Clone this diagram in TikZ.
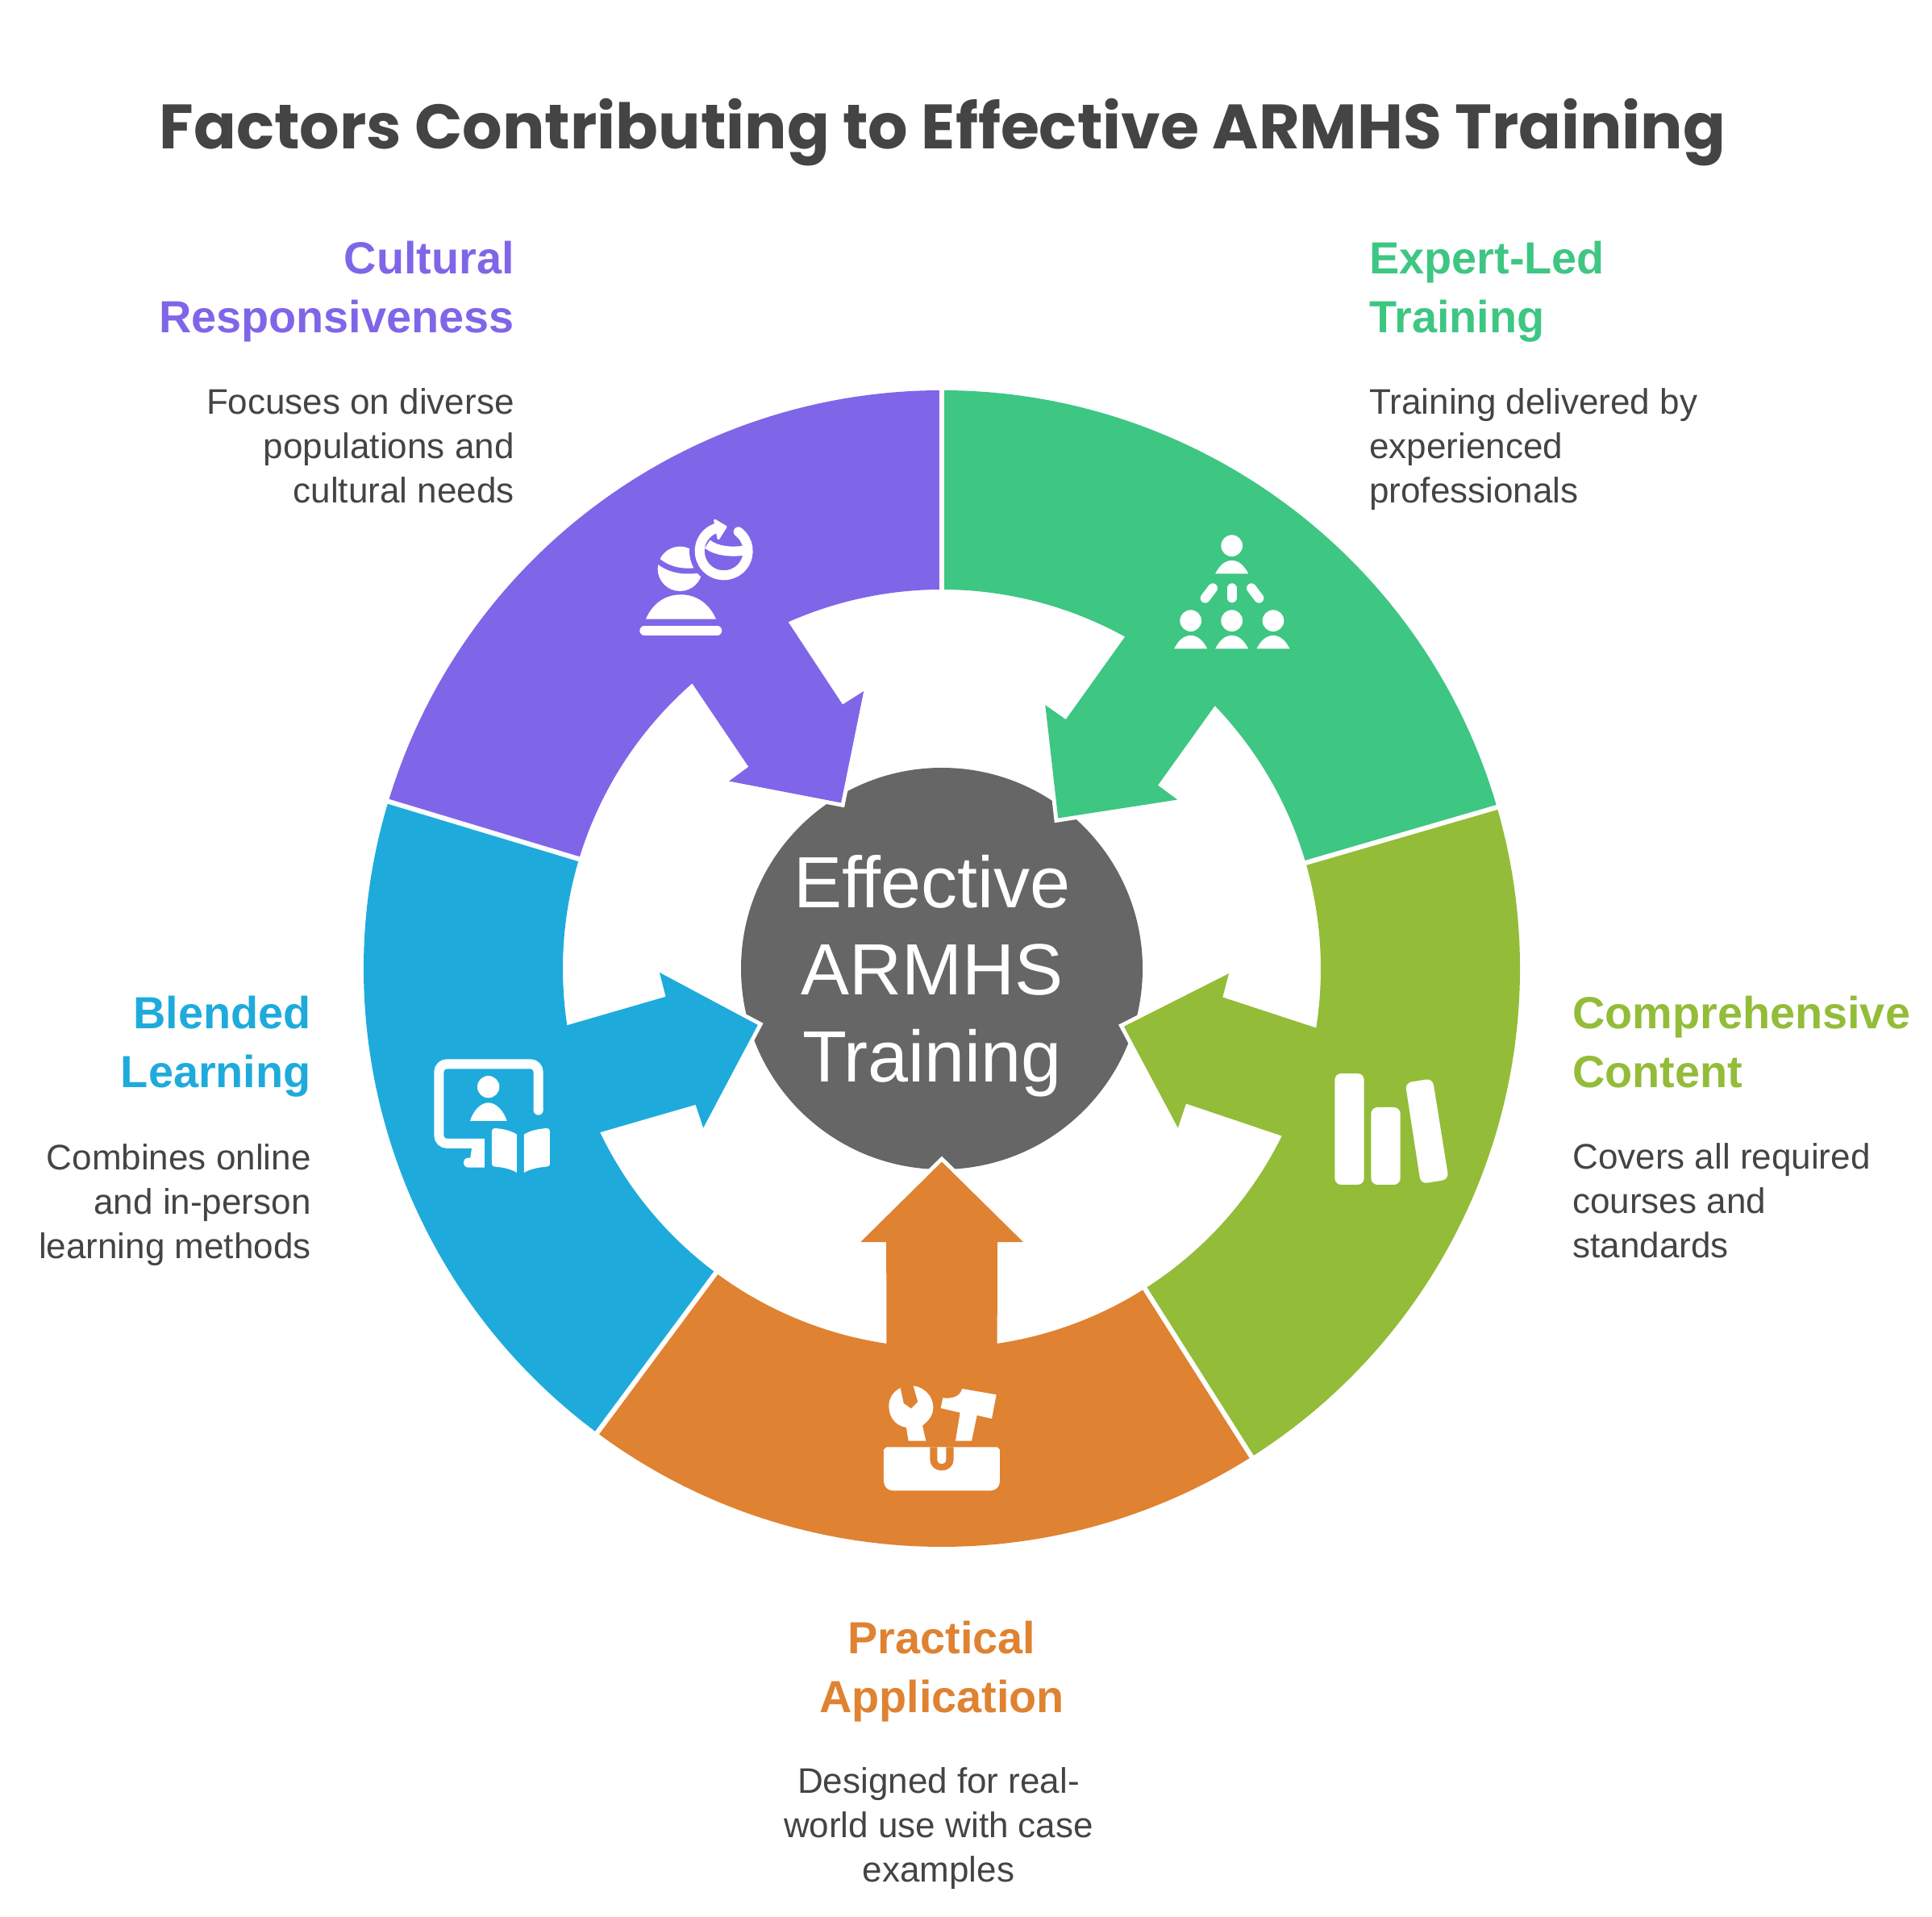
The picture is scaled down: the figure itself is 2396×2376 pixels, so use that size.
\documentclass[tikz,border=0pt]{standalone}
\usepackage{fontspec}
\setmainfont{Liberation Sans}
\newfontfamily\titlefont{Poppins}
\definecolor{culturalpurple}{HTML}{7F66E8}
\definecolor{expertgreen}{HTML}{3EC683}
\definecolor{contentolive}{HTML}{93BC39}
\definecolor{practicalorange}{HTML}{DF8231}
\definecolor{blendedblue}{HTML}{1EABDB}
\definecolor{hubgray}{HTML}{666666}
\definecolor{textgray}{HTML}{444444}

\begin{document}
\begin{tikzpicture}[
    x=.5pt,y=.5pt,
    hub/.style={circle,fill=hubgray,minimum size=249pt,inner sep=0pt},
    hublabel/.style={text=white,align=center,inner sep=0pt,font=\fontsize{45}{54}\selectfont},
    halo/.style={draw=white,line width=5pt,miter limit=10},
    gapline/.style={draw=white,line width=3pt},
    headlabel/.style={font=\fontsize{27.9}{36.5}\selectfont\bfseries,inner sep=0pt},
    desclabel/.style={font=\fontsize{22}{27.5}\selectfont,text=textgray,inner sep=0pt},
    icon/.style={xscale=.3333,yscale=-.3333},
    iconstroke/.style={draw=white,line width=6pt,line cap=round}
  ]
    \useasboundingbox (-1168,-1175) rectangle (1228,1201);

    \node[font=\titlefont\bfseries\fontsize{38.9}{46}\selectfont,text=textgray,inner sep=0pt,anchor=base] (heading) at (1,1016)
      {Factors Contributing to Effective ARMHS Training};

    \node[hub] (hub) at (0,0) {};
    \node[hublabel] (hubtext) at (-12,-9) {Effective\\ARMHS\\Training};

    \coordinate (culturaltip) at (-124.9,205.6);
    \coordinate (experttip) at (144.2,186.5);
    \coordinate (contenttip) at (225.9,-71.8);
    \coordinate (practicaltip) at (0,-239.6);
    \coordinate (blendedtip) at (-228.2,-69.9);

    \draw[halo] (-263.9,232.4) -- (culturaltip) -- (-96.8,344);
    \draw[halo] (292.2,209.4) -- (experttip) -- (128.3,326.8);
    \draw[halo] (356,-6.1) -- (contenttip) -- (292.8,-197.5);
    \draw[halo] (-100.7,-339) -- (practicaltip) -- (100.9,-339);
    \draw[halo] (-350,-4.9) -- (blendedtip) -- (-295.8,-197.5);

    \fill[culturalpurple] (90:717) arc[start angle=90,end angle=163.2,radius=717]
      -- (163.2:470) arc[start angle=163.2,end angle=131.2,radius=470]
      -- (-239.7,250.2) -- (-263.9,232.4) -- (culturaltip) -- (-96.8,344) -- (-123,327.4)
      -- (113.9:470) arc[start angle=113.9,end angle=90,radius=470] -- cycle;
    \fill[expertgreen] (90:717) arc[start angle=90,end angle=16.2,radius=717]
      -- (16.2:470) arc[start angle=16.2,end angle=43.9,radius=470]
      -- (268,227.3) -- (292.2,209.4) -- (experttip) -- (128.3,326.8) -- (153.8,308.9)
      -- (61.1:470) arc[start angle=61.1,end angle=90,radius=470] -- cycle;
    \fill[contentolive] (16.2:717) arc[start angle=16.2,end angle=-57.6,radius=717]
      -- (-57.6:470) arc[start angle=-57.6,end angle=-26.2,radius=470]
      -- (303,-167.5) -- (292.8,-197.5) -- (contenttip) -- (356,-6.1) -- (348.3,-35.5)
      -- (-9:470) arc[start angle=-9,end angle=16.2,radius=470] -- cycle;
    \fill[practicalorange] (-57.6:717) arc[start angle=-57.6,end angle=-126.6,radius=717]
      -- (233.4:470) arc[start angle=233.4,end angle=261.6,radius=470]
      -- (-68.8,-339) -- (-100.7,-339) -- (practicaltip) -- (100.9,-339) -- (69,-339)
      -- (278.4:470) arc[start angle=278.4,end angle=302.4,radius=470] -- cycle;
    \fill[blendedblue] (233.4:717) arc[start angle=233.4,end angle=163.2,radius=717]
      -- (163.2:470) arc[start angle=163.2,end angle=188.6,radius=470]
      -- (-342.4,-34.8) -- (-350,-4.9) -- (blendedtip) -- (-295.8,-197.5) -- (-305.4,-168.8)
      -- (205.6:470) arc[start angle=205.6,end angle=233.4,radius=470] -- cycle;

    \foreach \a in {90,16.2,-57.6,-126.6,163.2}
      \draw[gapline] (\a:460) -- (\a:726);

    \begin{scope}[shift={(-408,601)},icon]
      \draw[iconstroke] (118,546) -- (388,546);
      \fill[white] (123,503) .. controls (150,440) and (200,412) .. (253,412)
        .. controls (306,412) and (356,440) .. (384,503) -- cycle;
      \fill[white] (250,316) circle[radius=83];
      \draw[culturalpurple,line width=3.4pt] (160,280) .. controls (210,325) and (270,330) .. (325,320);
      \fill[culturalpurple] (413,250) circle[radius=128];
      \draw[iconstroke] (413,250) ++(-53:90) arc[start angle=-53,end angle=249,radius=90];
      \fill[white,draw=white,line width=1.5pt,line join=round] (380,136) -- (420,160) -- (393,203) -- cycle;
      \draw[draw=white,line width=6pt] (352,224) .. controls (385,250) and (440,255) .. (487,248);
    \end{scope}

    \begin{scope}[shift={(252,561)},icon]
      \foreach \x/\y in {323/0,170/279,323/279,477/279} {
        \fill[white] (\x,110+\y) circle[radius=40];
        \fill[white] (\x-61.5,214+\y) .. controls (\x-45,182+\y) and (\x-25,165+\y) .. (\x,165+\y)
          .. controls (\x+25,165+\y) and (\x+45,182+\y) .. (\x+61.5,214+\y) -- cycle;
      }
      \draw[iconstroke] (252,268) -- (224,305);
      \draw[iconstroke] (323,268) -- (323,304);
      \draw[iconstroke] (396,268) -- (424,305);
    \end{scope}

    \begin{scope}[shift={(462,-99)},icon]
      \fill[white,rounded corners=4pt] (76,93) rectangle (185,507);
      \fill[white,rounded corners=4pt] (211,219) rectangle (320,507);
      \fill[white,rounded corners=4pt] (338,128) -- (440,112) -- (500,487) -- (396,504) -- cycle;
    \end{scope}

    \begin{scope}[shift={(-98,-489)},icon]
      \fill[white] (170,290) -- (162,240) .. controls (115,232) and (97,195) .. (97,160)
        .. controls (97,130) and (115,105) .. (140,93) -- (152,150) -- (180,170) -- (205,145) -- (188,85)
        .. controls (230,90) and (262,125) .. (262,165) .. controls (262,195) and (245,215) .. (222,233)
        -- (235,290) -- cycle;
      \fill[white] (345,290) -- (362,185) -- (290,168) -- (298,130) .. controls (330,133) and (360,128) .. (370,96)
        -- (497,118) -- (480,207) -- (425,195) -- (405,290) -- cycle;
      \fill[white] (88,313) -- (500,313) -- (510,323) -- (510,440) .. controls (510,460) and (495,475) .. (475,475)
        -- (113,475) .. controls (93,475) and (78,460) .. (78,440) -- (78,323) -- cycle;
      \fill[practicalorange] (250,313) -- (250,356) .. controls (250,382) and (268,400) .. (294,400)
        .. controls (320,400) and (338,382) .. (338,356) -- (338,313) -- cycle;
      \fill[white] (277,313) -- (277,358) .. controls (277,369) and (284,375) .. (293.5,375)
        .. controls (303,375) and (310,369) .. (310,358) -- (310,313) -- cycle;
    \end{scope}

    \begin{scope}[shift={(-648,-89)},icon]
      \draw[draw=white,line width=6pt,rounded corners=5pt] (443,260) -- (443,88) -- (73,88) -- (73,383.5) -- (243,383.5);
      \fill[white] (443,260) circle[radius=18];
      \fill[white] (196,395) -- (190,437) -- (183,437) .. controls (172,437) and (165,445) .. (165,455)
        .. controls (165,465) and (172,473) .. (183,473) -- (243,473) -- (243,395) -- cycle;
      \fill[white] (257,173) circle[radius=41];
      \fill[white] (189,300) .. controls (200,262) and (228,232) .. (257,232)
        .. controls (286,232) and (314,262) .. (326,300) -- cycle;
      \fill[white] (270,338) .. controls (270,330) and (275,327) .. (282,327) .. controls (310,329) and (340,335) .. (363,350)
        -- (363,492) .. controls (340,478) and (310,472) .. (282,470) .. controls (275,470) and (270,466) .. (270,460) -- cycle;
      \fill[white] (486,338) .. controls (486,330) and (481,327) .. (474,327) .. controls (446,329) and (413,335) .. (390,350)
        -- (390,492) .. controls (413,478) and (446,472) .. (474,470) .. controls (481,470) and (486,466) .. (486,460) -- cycle;
    \end{scope}

    \node[headlabel,text=culturalpurple,anchor=east,align=right] (culturalhead) at (-530,839) {Cultural\\Responsiveness};
    \node[desclabel,anchor=east,align=right] (culturaldesc) at (-530,648.5) {Focuses on diverse\\populations and\\cultural needs};

    \node[headlabel,text=expertgreen,anchor=west,align=left] (experthead) at (530,839) {Expert-Led\\Training};
    \node[desclabel,anchor=west,align=left] (expertdesc) at (530,643.5) {Training delivered by\\experienced\\professionals};

    \node[headlabel,text=contentolive,anchor=west,align=left] (contenthead) at (782,-91) {Comprehensive\\Content};
    \node[desclabel,anchor=west,align=left] (contentdesc) at (782,-288) {Covers all required\\courses and\\standards};

    \node[headlabel,text=blendedblue,anchor=east,align=right] (blendedhead) at (-782,-97) {Blended\\Learning};
    \node[desclabel,anchor=east,align=right] (blendeddesc) at (-782,-293) {Combines online\\and in-person\\learning methods};

    \node[headlabel,text=practicalorange,align=center] (practicalhead) at (0,-872) {Practical\\Application};
    \node[desclabel,align=center] (practicaldesc) at (-4,-1066) {Designed for real-\\world use with case\\examples};
  \end{tikzpicture}
\end{document}
